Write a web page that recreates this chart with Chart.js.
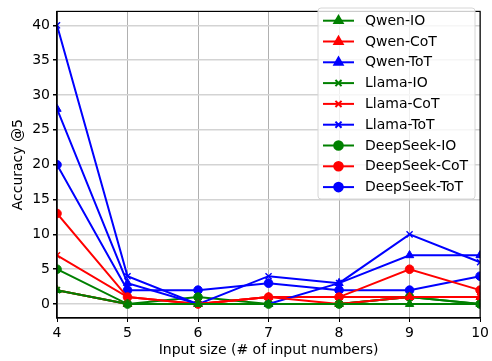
<!DOCTYPE html>
<html>
<head>
<meta charset="utf-8">
<script src="https://cdn.jsdelivr.net/npm/chart.js@4/dist/chart.umd.min.js"></script>
<style>
  html, body { margin: 0; padding: 0; background: #fff; }
  #wrap { width: 492px; height: 361px; }
</style>
</head>
<body>
<div id="wrap"><canvas id="chart" width="492" height="361"></canvas></div>
<script>
// DATA
const inputSizes = [4, 5, 6, 7, 8, 9, 10];
const yTickValues = [0, 5, 10, 15, 20, 25, 30, 35, 40];

const qwenIO      = [2, 0, 0, 0, 0, 0, 0];
const qwenCoT     = [2, 0, 0, 1, 0, 1, 1];
const qwenToT     = [28, 3, 0, 0, 3, 7, 7];
const llamaIO     = [2, 0, 0, 0, 0, 1, 0];
const llamaCoT    = [7, 1, 0, 1, 1, 1, 1];
const llamaToT    = [40, 4, 0, 4, 3, 10, 6];
const deepseekIO  = [5, 0, 1, 0, 0, 1, 0];
const deepseekCoT = [13, 1, 0, 1, 1, 5, 2];
const deepseekToT = [20, 2, 2, 3, 2, 2, 4];

const GREEN = '#008000', RED = '#ff0000', BLUE = '#0000ff';
const FONT = 'DejaVu Sans';

function series(label, values, color, style) {
    const r = style === 'circle' ? 4.3 : (style === 'triangle' ? 4.8 : 4.3);
    return {
        label: label,
        data: values.map((v, i) => ({ x: inputSizes[i], y: v })),
        borderColor: color,
        backgroundColor: color,
        borderWidth: 2,
        pointStyle: style,
        pointRadius: r,
        pointHoverRadius: r,
        pointBorderWidth: style === 'crossRot' ? 1.4 : 1,
        tension: 0
    };
}

const datasets = [
    series('Qwen-IO', qwenIO, GREEN, 'triangle'),
    series('Qwen-CoT', qwenCoT, RED, 'triangle'),
    series('Qwen-ToT', qwenToT, BLUE, 'triangle'),
    series('Llama-IO', llamaIO, GREEN, 'crossRot'),
    series('Llama-CoT', llamaCoT, RED, 'crossRot'),
    series('Llama-ToT', llamaToT, BLUE, 'crossRot'),
    series('DeepSeek-IO', deepseekIO, GREEN, 'circle'),
    series('DeepSeek-CoT', deepseekCoT, RED, 'circle'),
    series('DeepSeek-ToT', deepseekToT, BLUE, 'circle')
];

// frame around the plot + legend box in the upper right
const framePlugin = {
    id: 'frame',
    afterDraw(chart) {
        const ctx = chart.ctx;
        const a = chart.chartArea;
        ctx.save();
        ctx.strokeStyle = '#000';
        ctx.lineWidth = 1.2;
        ctx.strokeRect(a.left, a.top, a.right - a.left, a.bottom - a.top);

        // legend
        const bx = 318, by = 8, bw = 157, bh = 191, rad = 3;
        ctx.beginPath();
        ctx.moveTo(bx + rad, by);
        ctx.arcTo(bx + bw, by, bx + bw, by + bh, rad);
        ctx.arcTo(bx + bw, by + bh, bx, by + bh, rad);
        ctx.arcTo(bx, by + bh, bx, by, rad);
        ctx.arcTo(bx, by, bx + bw, by, rad);
        ctx.closePath();
        ctx.fillStyle = 'rgba(255,255,255,0.8)';
        ctx.fill();
        ctx.strokeStyle = '#d6d6d6';
        ctx.lineWidth = 1;
        ctx.stroke();

        ctx.font = '14px "' + FONT + '"';
        ctx.textBaseline = 'middle';
        ctx.textAlign = 'left';
        chart.data.datasets.forEach((ds, i) => {
            const y = 20.7 + i * 20.8;
            ctx.strokeStyle = ds.borderColor;
            ctx.lineWidth = ds.borderWidth;
            ctx.beginPath();
            ctx.moveTo(323, y);
            ctx.lineTo(354, y);
            ctx.stroke();
            ctx.fillStyle = ds.borderColor;
            Chart.helpers.drawPoint(ctx, {
                pointStyle: ds.pointStyle,
                radius: ds.pointRadius,
                borderWidth: ds.pointBorderWidth,
                rotation: 0
            }, 338.5, y);
            ctx.fillStyle = '#000';
            ctx.fillText(ds.label, 365, y + 0.5);
        });
        ctx.restore();
    }
};

new Chart(document.getElementById('chart'), {
    type: 'line',
    data: { datasets: datasets },
    plugins: [framePlugin],
    options: {
        responsive: false,
        animation: false,
        maintainAspectRatio: false,
        layout: { padding: { left: 0, right: 10, top: 2, bottom: 0 } },
        plugins: {
            legend: { display: false },
            tooltip: { enabled: false }
        },
        scales: {
            x: {
                type: 'linear',
                min: 4,
                max: 10,
                afterBuildTicks: s => { s.ticks = inputSizes.map(v => ({ value: v })); },
                afterFit: s => { s.height = 43; },
                grid: { color: '#b0b0b0', lineWidth: 1, tickLength: 4, tickColor: '#000' },
                border: { display: true, color: '#000', width: 1.2 },
                ticks: { color: '#000', padding: 3, maxRotation: 0, font: { family: FONT, size: 14 } },
                title: {
                    display: true,
                    text: 'Input size (# of input numbers)',
                    color: '#000',
                    padding: { top: 0, bottom: 2 },
                    font: { family: FONT, size: 14 }
                }
            },
            y: {
                type: 'linear',
                min: -2,
                max: 42,
                afterBuildTicks: s => { s.ticks = yTickValues.map(v => ({ value: v })); },
                afterFit: s => { s.width = 57; },
                grid: { color: '#d3d3d3', lineWidth: 1.5, tickLength: 4, tickColor: '#000' },
                border: { display: true, color: '#000', width: 1.2 },
                ticks: { color: '#000', padding: 3, font: { family: FONT, size: 14 } },
                title: {
                    display: true,
                    text: 'Accuracy @5',
                    color: '#000',
                    padding: { top: 10, bottom: 0 },
                    font: { family: FONT, size: 14 }
                }
            }
        }
    }
});
</script>
</body>
</html>
